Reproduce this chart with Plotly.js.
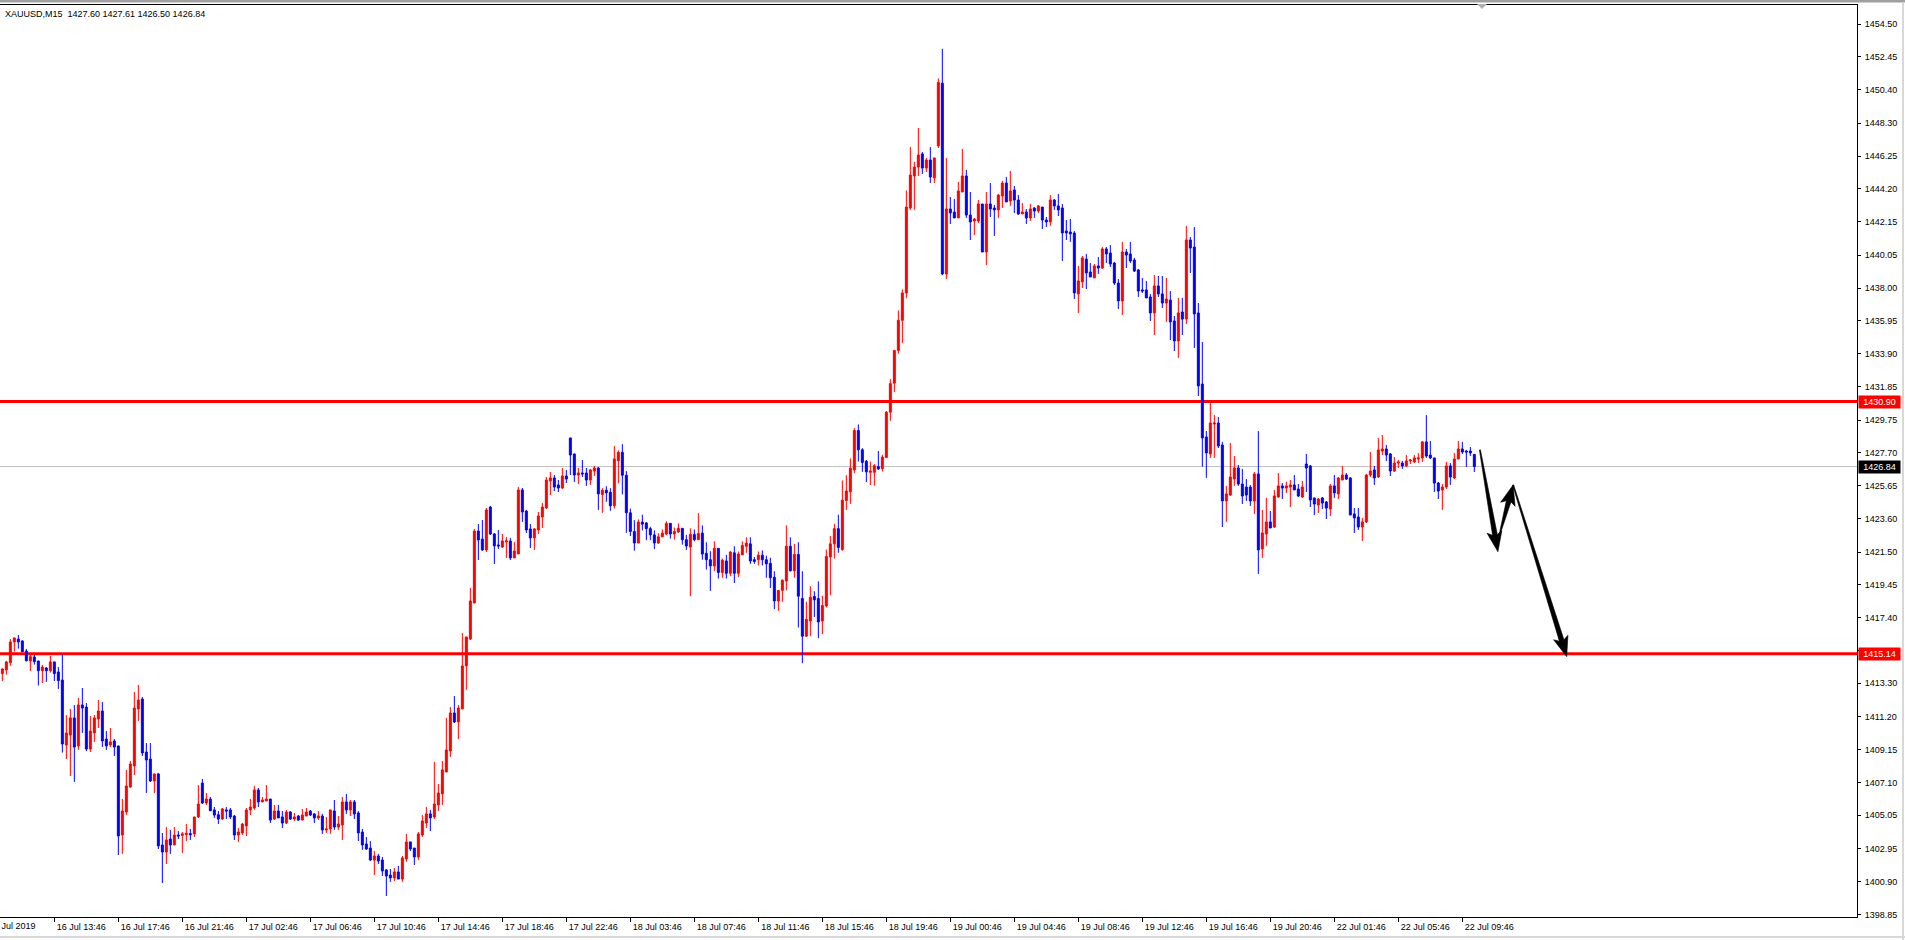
<!DOCTYPE html>
<html>
<head>
<meta charset="utf-8">
<script src="https://cdn.plot.ly/plotly-3.0.1.min.js"></script>
<style>
html,body{margin:0;padding:0;background:#ffffff;overflow:hidden}
#chart{width:1905px;height:940px}
</style>
</head>
<body>
<div id="chart"></div>
<script>
// ---------------- DATA ----------------
const symbolTitle = 'XAUUSD,M15\u00a0\u00a01427.60 1427.61 1426.50 1426.84';

const open = [
1413.90,1414.13,1414.58,1415.88,1416.06,1415.94,1415.31,1414.69,1414.94,1414.69,
1414.08,1414.25,1414.08,1414.63,1414.00,1413.50,1409.44,1410.06,1411.13,1409.38,
1411.94,1411.81,1409.19,1410.19,1411.06,1411.56,1409.81,1409.44,1409.69,1409.38,
1403.81,1405.25,1406.81,1408.13,1411.69,1412.31,1409.00,1408.56,1407.19,1407.63,
1403.19,1402.75,1403.56,1403.19,1403.81,1403.79,1403.83,1403.90,1403.88,1404.94,
1407.06,1405.81,1406.06,1405.38,1405.08,1404.81,1405.38,1405.38,1405.00,1403.81,
1403.94,1404.38,1405.38,1405.50,1406.63,1405.88,1405.94,1406.06,1404.81,1405.31,
1404.94,1404.56,1405.25,1404.81,1405.00,1404.75,1405.00,1405.31,1405.13,1404.88,
1405.00,1404.13,1404.19,1405.31,1404.31,1404.44,1405.88,1405.38,1405.88,1405.19,
1404.00,1403.25,1403.00,1402.25,1402.50,1402.25,1401.63,1401.31,1401.13,1401.50,
1401.06,1402.31,1403.38,1403.00,1402.44,1403.81,1404.56,1405.13,1404.94,1405.69,
1406.38,1407.75,1409.06,1411.44,1410.88,1411.69,1414.38,1416.06,1418.31,1422.81,
1422.31,1421.63,1424.31,1422.63,1421.94,1421.81,1422.13,1422.19,1421.13,1421.38,
1425.38,1424.06,1422.94,1422.38,1422.88,1423.69,1424.25,1425.94,1426.13,1425.69,
1425.50,1426.25,1428.63,1427.63,1426.31,1426.44,1426.44,1426.00,1426.56,1426.75,
1425.10,1425.36,1425.23,1424.39,1427.20,1427.73,1426.30,1423.95,1422.78,1422.06,
1423.37,1423.32,1422.96,1422.57,1422.06,1422.45,1422.63,1423.29,1422.63,1422.75,
1422.98,1422.27,1421.81,1422.60,1422.27,1422.68,1421.42,1421.02,1420.63,1421.73,
1420.22,1420.94,1420.17,1421.45,1420.17,1421.32,1421.86,1422.01,1421.02,1421.02,
1421.30,1421.02,1420.79,1419.92,1418.44,1419.10,1419.69,1421.86,1420.33,1421.35,
1418.59,1416.24,1417.19,1418.72,1418.59,1417.19,1418.13,1421.19,1422.01,1422.96,
1421.65,1424.72,1425.26,1426.63,1429.09,1427.89,1427.17,1426.48,1426.48,1426.84,
1426.71,1427.40,1430.24,1432.05,1434.09,1435.98,1437.69,1443.00,1445.00,1445.56,
1446.38,1445.50,1446.00,1444.88,1446.88,1450.80,1438.88,1442.94,1442.75,1442.38,
1444.00,1445.00,1442.56,1442.19,1442.19,1443.25,1440.25,1443.25,1443.00,1442.88,
1443.75,1444.56,1443.44,1444.13,1443.50,1442.63,1442.75,1442.38,1443.00,1442.81,
1443.06,1442.25,1442.13,1443.50,1443.13,1443.00,1441.56,1441.50,1441.44,1437.63,
1438.38,1439.81,1439.00,1438.63,1439.38,1439.25,1440.44,1440.19,1439.56,1438.31,
1437.19,1440.25,1440.13,1439.75,1439.13,1437.88,1437.88,1437.44,1436.44,1438.13,
1437.63,1437.06,1437.25,1435.94,1434.69,1436.50,1436.06,1441.00,1440.56,1436.44,
1432.00,1428.69,1427.63,1429.50,1429.56,1428.19,1424.69,1425.06,1426.06,1426.75,
1425.75,1425.56,1425.56,1424.69,1426.38,1421.69,1422.63,1423.38,1423.06,1424.94,
1425.63,1425.50,1425.56,1425.69,1425.44,1424.94,1427.00,1426.88,1424.88,1424.44,
1424.88,1424.63,1424.19,1425.63,1425.13,1426.00,1426.31,1426.13,1423.88,1423.69,
1423.06,1423.38,1426.31,1426.63,1426.19,1427.81,1427.94,1427.63,1426.56,1427.06,
1427.06,1426.88,1427.19,1427.13,1427.31,1427.38,1428.38,1427.56,1427.38,1425.81,
1425.38,1425.56,1426.88,1426.13,1427.31,1427.94,1427.81,1427.81,1427.60
];

const high = [
1414.23,1414.69,1416.06,1416.15,1416.31,1415.98,1415.44,1415.10,1415.06,1414.69,
1414.44,1414.31,1415.00,1414.65,1414.31,1415.10,1411.31,1411.69,1411.94,1412.38,
1413.00,1412.06,1411.25,1411.31,1412.25,1412.13,1410.31,1410.50,1409.81,1409.38,
1406.06,1407.88,1408.44,1412.75,1413.19,1412.44,1409.56,1409.56,1407.63,1407.69,
1403.94,1404.31,1404.13,1404.31,1404.06,1404.00,1404.50,1404.19,1404.94,1406.94,
1407.31,1406.44,1406.19,1405.56,1405.31,1405.50,1405.56,1405.50,1405.06,1404.25,
1404.56,1405.50,1406.06,1406.88,1406.75,1406.19,1406.94,1406.06,1405.69,1405.69,
1405.31,1405.38,1405.31,1405.19,1405.06,1405.44,1405.50,1405.38,1405.19,1405.31,
1405.13,1404.94,1405.38,1406.00,1405.00,1406.19,1406.38,1406.00,1406.00,1405.31,
1404.19,1403.69,1403.44,1402.81,1402.63,1402.44,1401.69,1401.69,1401.75,1401.88,
1402.50,1403.88,1403.38,1403.00,1404.00,1405.06,1405.56,1405.38,1408.38,1407.00,
1408.44,1411.13,1411.81,1412.50,1411.94,1416.44,1416.19,1419.25,1422.94,1423.25,
1423.50,1424.25,1424.38,1422.69,1422.88,1422.63,1422.44,1422.38,1422.13,1425.56,
1425.50,1424.13,1423.25,1423.00,1424.00,1424.56,1426.19,1426.50,1426.31,1426.00,
1426.75,1426.63,1428.63,1427.63,1426.75,1427.25,1426.75,1426.69,1426.88,1426.81,
1425.49,1425.61,1425.49,1428.12,1427.86,1428.24,1426.56,1424.21,1423.49,1423.54,
1423.83,1423.37,1423.08,1422.85,1422.68,1422.91,1423.42,1423.29,1423.03,1423.29,
1422.98,1422.57,1422.98,1422.91,1423.93,1423.16,1422.11,1421.55,1422.17,1421.73,
1421.09,1421.32,1421.55,1421.86,1421.53,1422.17,1422.42,1422.42,1421.19,1421.53,
1421.60,1421.27,1421.14,1420.30,1419.10,1419.79,1423.16,1422.42,1422.01,1422.11,
1420.30,1418.39,1419.36,1419.05,1419.66,1418.77,1421.65,1422.50,1423.26,1423.83,
1425.97,1426.30,1427.35,1429.24,1429.47,1427.99,1427.25,1427.15,1426.99,1427.81,
1427.58,1430.31,1432.30,1434.14,1436.60,1437.92,1444.10,1446.81,1445.88,1448.00,
1446.50,1446.13,1446.81,1446.13,1451.10,1452.95,1446.13,1443.69,1443.56,1444.63,
1446.69,1445.38,1444.00,1442.38,1443.50,1443.25,1444.00,1444.56,1443.19,1443.88,
1444.69,1444.94,1445.31,1444.38,1443.81,1443.31,1442.94,1443.25,1443.06,1443.19,
1443.06,1442.44,1443.81,1443.56,1443.88,1443.25,1442.25,1442.31,1441.56,1439.38,
1440.00,1440.13,1439.56,1439.50,1439.94,1440.56,1440.56,1440.69,1439.63,1438.56,
1440.88,1440.44,1440.88,1439.88,1439.19,1438.63,1438.44,1437.63,1438.81,1438.75,
1438.75,1438.63,1437.81,1436.25,1437.38,1437.38,1441.88,1441.19,1441.81,1437.06,
1434.63,1429.06,1430.81,1430.06,1429.94,1428.38,1425.63,1428.31,1427.50,1426.94,
1426.69,1426.06,1425.69,1426.50,1429.06,1424.13,1424.88,1424.06,1425.38,1426.44,
1425.81,1425.88,1426.00,1426.31,1425.75,1425.94,1427.63,1426.94,1424.88,1424.88,
1424.94,1424.69,1425.75,1426.31,1426.19,1426.88,1426.44,1426.19,1424.25,1424.25,
1423.63,1426.38,1427.75,1426.88,1428.63,1428.81,1428.19,1427.69,1427.44,1427.25,
1427.19,1427.56,1427.31,1427.56,1427.69,1428.44,1430.06,1428.44,1427.38,1425.88,
1425.75,1427.13,1427.06,1427.69,1428.44,1428.38,1427.88,1428.06,1427.61
];

const low = [
1413.44,1413.83,1414.38,1415.27,1415.46,1415.25,1414.65,1414.06,1414.46,1413.15,
1413.31,1413.38,1413.96,1413.44,1412.94,1408.96,1408.56,1407.50,1407.13,1409.13,
1410.19,1409.06,1409.00,1409.63,1410.50,1409.31,1409.13,1409.31,1408.75,1402.56,
1402.63,1405.06,1406.75,1407.56,1410.94,1408.75,1406.44,1407.13,1406.44,1402.94,
1400.81,1402.00,1402.63,1403.19,1403.56,1402.69,1403.44,1403.50,1403.69,1404.88,
1405.75,1405.69,1405.31,1404.88,1404.50,1404.75,1404.81,1404.81,1403.50,1403.38,
1403.81,1403.75,1405.06,1405.38,1405.56,1405.88,1405.94,1404.56,1404.75,1404.88,
1404.25,1404.50,1404.75,1404.69,1404.69,1404.75,1405.00,1405.00,1404.56,1404.75,
1403.88,1403.94,1403.88,1404.13,1404.13,1403.50,1405.13,1405.00,1404.81,1403.44,
1402.88,1402.88,1402.19,1401.31,1402.00,1401.25,1400.00,1400.88,1400.94,1401.06,
1400.88,1402.13,1402.81,1401.94,1402.25,1403.69,1404.25,1404.06,1404.81,1405.31,
1405.69,1407.75,1408.69,1410.81,1409.81,1411.69,1412.88,1416.00,1418.31,1421.00,
1421.56,1421.50,1422.56,1420.75,1421.69,1421.75,1421.13,1421.00,1421.13,1421.38,
1423.38,1422.69,1421.75,1421.63,1422.63,1423.00,1424.19,1425.06,1425.31,1425.25,
1425.44,1425.81,1426.31,1425.88,1425.75,1426.19,1425.63,1425.69,1426.25,1424.13,
1423.95,1424.64,1424.08,1424.21,1425.79,1425.10,1422.70,1422.50,1421.58,1422.06,
1422.85,1422.24,1422.24,1421.68,1422.01,1422.45,1422.55,1422.34,1422.27,1422.70,
1421.96,1421.63,1418.74,1422.17,1422.27,1421.02,1420.40,1419.07,1420.30,1419.84,
1419.89,1419.84,1419.99,1419.56,1419.94,1421.32,1421.45,1420.76,1420.76,1420.66,
1420.66,1419.89,1419.25,1417.93,1417.82,1418.39,1419.10,1420.28,1419.89,1416.78,
1414.55,1416.19,1416.24,1417.44,1416.11,1416.37,1418.03,1418.79,1421.09,1421.45,
1421.58,1424.13,1424.51,1426.43,1427.15,1426.51,1425.87,1425.69,1425.64,1426.63,
1426.53,1427.40,1429.70,1431.49,1433.89,1434.55,1437.36,1442.88,1442.88,1445.00,
1445.13,1445.25,1444.56,1444.56,1446.75,1438.80,1438.56,1442.00,1442.38,1442.38,
1444.00,1442.38,1441.00,1441.31,1442.06,1440.25,1439.44,1442.44,1441.25,1442.38,
1443.00,1443.38,1443.13,1442.69,1442.56,1442.63,1442.00,1442.19,1442.38,1442.69,
1441.69,1441.81,1441.88,1442.88,1442.50,1439.69,1441.00,1440.88,1437.31,1436.44,
1438.00,1437.94,1438.69,1438.63,1438.88,1439.19,1439.56,1439.31,1438.19,1436.69,
1436.31,1439.25,1439.56,1439.00,1437.44,1437.69,1437.38,1435.94,1435.06,1437.44,
1436.75,1435.88,1434.75,1434.06,1433.63,1435.06,1435.75,1438.94,1434.25,1431.25,
1426.83,1426.13,1427.38,1427.38,1428.00,1423.06,1423.38,1425.00,1425.63,1425.63,
1424.50,1424.69,1424.38,1423.88,1420.13,1421.13,1421.88,1423.00,1423.00,1424.88,
1424.81,1425.19,1424.31,1425.38,1424.94,1424.88,1425.25,1424.31,1423.81,1423.94,
1424.19,1423.56,1423.75,1424.88,1424.81,1426.00,1426.00,1423.81,1422.69,1422.88,
1422.19,1423.31,1426.19,1425.69,1426.13,1427.56,1427.19,1426.25,1426.50,1426.75,
1426.69,1426.81,1427.00,1427.06,1427.06,1427.13,1427.38,1427.31,1425.25,1424.81,
1424.13,1425.44,1425.69,1426.06,1427.31,1427.63,1426.81,1427.50,1426.50
];

const close = [
1414.19,1414.63,1415.88,1416.13,1415.88,1415.27,1414.71,1414.96,1414.65,1414.08,
1414.31,1414.08,1414.63,1413.90,1413.46,1409.50,1410.19,1411.13,1409.31,1411.94,
1411.75,1409.19,1410.31,1411.13,1411.56,1409.69,1409.38,1409.63,1409.31,1403.75,
1405.31,1406.88,1408.25,1411.75,1412.25,1408.94,1408.50,1407.19,1407.63,1403.13,
1402.75,1403.50,1403.19,1403.81,1403.75,1403.88,1403.92,1403.83,1404.94,1405.75,
1405.81,1406.06,1405.33,1405.06,1404.81,1405.44,1405.31,1404.94,1403.81,1404.00,
1404.50,1405.38,1405.56,1406.63,1405.88,1406.00,1406.06,1404.75,1405.31,1404.88,
1404.56,1405.25,1404.81,1404.94,1404.75,1405.06,1405.25,1405.06,1404.88,1405.00,
1404.13,1404.19,1405.38,1404.31,1404.50,1405.88,1405.38,1405.88,1405.13,1403.94,
1403.19,1402.94,1402.25,1402.50,1402.19,1401.56,1401.25,1401.13,1401.50,1401.06,
1402.38,1403.38,1402.94,1402.44,1403.88,1404.69,1405.13,1404.88,1405.75,1406.44,
1407.88,1409.13,1411.44,1410.88,1411.75,1414.38,1416.19,1418.44,1422.81,1422.25,
1421.63,1424.13,1422.63,1421.88,1421.88,1422.19,1422.19,1421.13,1421.56,1425.38,
1424.00,1422.88,1422.38,1422.94,1423.75,1424.31,1426.00,1426.13,1425.56,1425.50,
1426.25,1426.06,1427.56,1426.31,1426.44,1426.38,1426.00,1426.63,1426.75,1425.13,
1425.36,1425.20,1424.39,1427.32,1427.73,1426.30,1423.95,1422.78,1422.06,1423.37,
1423.24,1422.96,1422.57,1422.06,1422.45,1422.68,1423.29,1422.63,1422.78,1422.98,
1422.27,1421.88,1422.60,1422.27,1422.65,1421.37,1421.02,1420.63,1421.73,1420.22,
1420.99,1420.17,1421.50,1420.17,1421.37,1421.91,1422.06,1420.94,1420.91,1421.30,
1421.02,1420.76,1419.89,1418.44,1419.10,1419.74,1421.86,1420.33,1421.35,1418.74,
1416.24,1417.29,1418.67,1418.51,1417.13,1418.16,1421.22,1422.01,1422.96,1421.78,
1424.74,1425.31,1426.74,1429.09,1427.89,1427.10,1426.51,1426.56,1426.89,1426.69,
1427.43,1430.24,1432.02,1434.09,1435.98,1437.69,1443.06,1445.06,1445.56,1446.31,
1445.50,1446.00,1444.94,1446.13,1450.85,1438.88,1442.94,1442.69,1442.38,1444.06,
1445.00,1442.56,1442.13,1442.31,1443.25,1440.25,1443.25,1442.94,1442.88,1443.81,
1444.56,1443.38,1444.06,1443.50,1442.63,1442.75,1442.38,1442.94,1442.81,1443.13,
1442.25,1442.13,1443.50,1443.13,1442.88,1441.44,1441.44,1441.38,1437.69,1438.44,
1439.88,1438.94,1438.69,1439.38,1439.25,1440.44,1440.13,1439.50,1438.31,1437.19,
1440.25,1440.06,1439.69,1439.06,1437.81,1437.81,1437.38,1436.44,1438.13,1437.63,
1437.06,1437.31,1435.88,1434.69,1436.44,1436.06,1441.00,1440.50,1436.38,1431.88,
1428.63,1427.69,1429.56,1429.56,1428.13,1424.69,1425.13,1426.19,1426.75,1425.75,
1425.00,1425.06,1424.69,1426.38,1421.63,1422.69,1423.38,1423.00,1425.00,1425.63,
1425.50,1425.63,1425.69,1425.38,1425.00,1425.56,1426.75,1424.75,1424.50,1424.81,
1424.56,1424.25,1425.63,1425.19,1426.13,1426.31,1426.06,1423.81,1423.63,1423.06,
1423.38,1426.31,1426.56,1426.13,1427.88,1427.94,1427.56,1426.56,1427.06,1427.13,
1426.88,1427.19,1427.25,1427.38,1427.38,1428.38,1427.50,1427.38,1425.81,1425.31,
1425.56,1426.88,1426.19,1427.31,1427.94,1427.75,1427.75,1427.69,1426.84
];

// time axis labels: one every 16 bars, first at bar 13
const timeLabels = [
'16 Jul 13:46','16 Jul 17:46','16 Jul 21:46','17 Jul 02:46','17 Jul 06:46','17 Jul 10:46',
'17 Jul 14:46','17 Jul 18:46','17 Jul 22:46','18 Jul 03:46','18 Jul 07:46','18 Jul 11:46',
'18 Jul 15:46','18 Jul 19:46','19 Jul 00:46','19 Jul 04:46','19 Jul 08:46','19 Jul 12:46',
'19 Jul 16:46','19 Jul 20:46','22 Jul 01:46','22 Jul 05:46','22 Jul 09:46'
];
const firstLabelBar = 13;
const labelStep = 16;
const dateLabel = '16 Jul 2019';
const dateLabelBar = -3;

const priceTicks = [
1454.50,1452.45,1450.40,1448.30,1446.25,1444.20,1442.15,1440.05,1438.00,1435.95,
1433.90,1431.85,1429.75,1427.70,1425.65,1423.60,1421.50,1419.45,1417.40,1415.35,
1413.30,1411.20,1409.15,1407.10,1405.05,1402.95,1400.90,1398.85
];

const levelLines = [1430.90, 1415.14];
const currentPrice = 1426.84;

// drawn arrows (bar position, price)
const arrowFromBar   = [369.4, 374.4, 377.7];
const arrowFromPrice = [1427.88, 1422.67, 1425.69];
const arrowToBar     = [373.9, 377.7, 391.1];
const arrowToPrice   = [1421.52, 1425.69, 1414.96];

// ---------------- LAYOUT / DRAW ----------------
const W = 1905, H = 940;
const M = {l: 0, r: 48, t: 5, b: 23};
const PW = W - M.l - M.r, PH = H - M.t - M.b;
const xRange = [-0.5825, 463.67];
const yRange = [1398.6875, 1455.6875];
const FONT = 'Liberation Sans, Arial, sans-serif';

const bars = open.map((_, i) => i);
const tickBars = timeLabels.map((_, j) => firstLabelBar + j * labelStep);

const sx = PW / (xRange[1] - xRange[0]);
const sy = PH / (yRange[1] - yRange[0]);

function arrowPath(x0, y0, x1, y1) {
  const X0 = x0 * sx, Y0 = -y0 * sy, X1 = x1 * sx, Y1 = -y1 * sy;
  const dx = X1 - X0, dy = Y1 - Y0, L = Math.hypot(dx, dy);
  const ux = dx / L, uy = dy / L, nx = -uy, ny = ux;
  const headLen = 17, headHalf = 7.5, s1 = 2.4, s0 = 0.5, barb = 3;
  const bx = X1 - ux * headLen, by = Y1 - uy * headLen;
  const pts = [
    [X0 + nx * s0, Y0 + ny * s0],
    [bx + nx * s1, by + ny * s1],
    [bx - ux * barb + nx * headHalf, by - uy * barb + ny * headHalf],
    [X1, Y1],
    [bx - ux * barb - nx * headHalf, by - uy * barb - ny * headHalf],
    [bx - nx * s1, by - ny * s1],
    [X0 - nx * s0, Y0 - ny * s0]
  ];
  return 'M ' + pts.map(p => (p[0] / sx).toFixed(4) + ',' + (-p[1] / sy).toFixed(4)).join(' L ') + ' Z';
}

const shapes = [];
// current price line
shapes.push({type: 'line', xref: 'paper', x0: 0, x1: 1, yref: 'y', y0: currentPrice, y1: currentPrice,
  line: {color: '#c0c0c0', width: 1}, layer: 'below'});
// horizontal levels
levelLines.forEach(v => shapes.push({type: 'line', xref: 'paper', x0: 0, x1: 1, yref: 'y', y0: v, y1: v,
  line: {color: '#ff0000', width: 3}, layer: 'below'}));
// arrows
arrowFromBar.forEach((_, i) => shapes.push({type: 'path', xref: 'x', yref: 'y',
  path: arrowPath(arrowFromBar[i], arrowFromPrice[i], arrowToBar[i], arrowToPrice[i]),
  fillcolor: '#000000', line: {color: '#000000', width: 0.6}, layer: 'above'}));
// window frame decorations
const px2pxX = px => (px - M.l) / PW;
const px2pxY = py => (H - M.b - py) / PH;
shapes.push({type: 'rect', xref: 'paper', yref: 'paper', x0: px2pxX(0), x1: px2pxX(W), y0: px2pxY(2.5), y1: px2pxY(0),
  fillcolor: '#a0a0a0', line: {width: 0}});
shapes.push({type: 'line', xref: 'paper', yref: 'paper', x0: px2pxX(W - 2), x1: px2pxX(W - 2), y0: px2pxY(H), y1: px2pxY(2.5),
  line: {color: '#d8d8d8', width: 2}});
shapes.push({type: 'line', xref: 'paper', yref: 'paper', x0: px2pxX(0), x1: px2pxX(W), y0: px2pxY(H - 3), y1: px2pxY(H - 3),
  line: {color: '#d8d8d8', width: 2}});
shapes.push({type: 'path', xref: 'paper', yref: 'paper',
  path: 'M ' + px2pxX(1477) + ',' + px2pxY(4) + ' L ' + px2pxX(1487) + ',' + px2pxY(4) + ' L ' + px2pxX(1482) + ',' + px2pxY(9) + ' Z',
  fillcolor: '#b0b0b0', line: {width: 0}});

const annotations = [];
function priceTag(v, bg) {
  annotations.push({xref: 'paper', x: 1, xanchor: 'left', xshift: 1, yref: 'y', y: v, yanchor: 'middle',
    text: v.toFixed(2), showarrow: false, bgcolor: bg, borderpad: 0, width: 41, height: 12, align: 'center',
    font: {family: FONT, size: 9, color: '#ffffff'}});
}
levelLines.forEach(v => priceTag(v, '#ff0000'));
priceTag(currentPrice, '#000000');
annotations.push({xref: 'paper', x: (dateLabelBar - xRange[0]) * sx / PW, xanchor: 'left', xshift: -3.5,
  yref: 'paper', y: 0, yanchor: 'middle', yshift: -9, text: dateLabel, showarrow: false,
  font: {family: FONT, size: 9, color: '#000000'}});

const trace = {
  type: 'candlestick', x: bars, open: open, high: high, low: low, close: close,
  increasing: {line: {color: '#ff0000', width: 1}, fillcolor: '#ff0000'},
  decreasing: {line: {color: '#0000ff', width: 1}, fillcolor: '#0000ff'},
  whiskerwidth: 0, hoverinfo: 'skip', showlegend: false
};

const layout = {
  width: W, height: H,
  margin: M,
  paper_bgcolor: '#ffffff', plot_bgcolor: '#ffffff',
  showlegend: false,
  title: {text: symbolTitle, xref: 'container', x: 5 / W, xanchor: 'left', yref: 'container', y: 1 - 13.5 / H, yanchor: 'middle',
    font: {family: FONT, size: 9, color: '#000000'}},
  xaxis: {
    range: xRange, fixedrange: true, showgrid: false, zeroline: false,
    tickmode: 'array', tickvals: tickBars, ticktext: timeLabels,
    ticks: 'outside', ticklen: 4, tickwidth: 1, tickcolor: '#000000',
    ticklabelshift: 27, ticklabelstandoff: -3,
    showline: true, linecolor: '#000000', linewidth: 1, mirror: true,
    tickfont: {family: FONT, size: 9, color: '#000000'},
    rangeslider: {visible: false}
  },
  yaxis: {
    range: yRange, side: 'right', fixedrange: true, showgrid: false, zeroline: false,
    tickmode: 'array', tickvals: priceTicks, ticktext: priceTicks.map(v => v.toFixed(2)),
    ticks: 'outside', ticklen: 3, tickwidth: 1, tickcolor: '#000000',
    ticklabelstandoff: 2,
    showline: true, linecolor: '#000000', linewidth: 1,
    tickfont: {family: FONT, size: 9, color: '#000000'}
  },
  shapes: shapes,
  annotations: annotations
};

Plotly.newPlot('chart', [trace], layout, {staticPlot: true, displayModeBar: false});
</script>
</body>
</html>
